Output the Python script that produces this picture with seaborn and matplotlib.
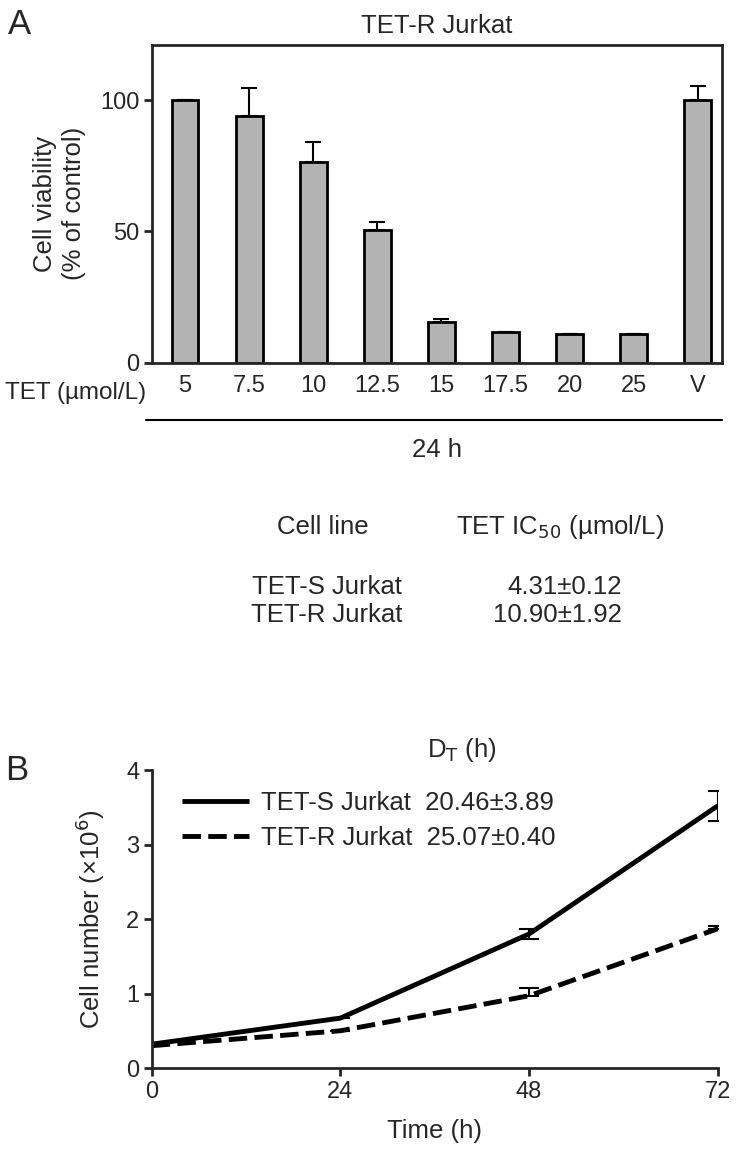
import pandas as pd
import matplotlib.pyplot as plt
import seaborn as sns
import numpy as np
from matplotlib.lines import Line2D

# Panel A data: viability of TET-R Jurkat after 24 h
doses = ["5", "7.5", "10", "12.5", "15", "17.5", "20", "25", "V"]
viability = [100, 94, 76.5, 50.5, 15.5, 11.5, 11, 11, 100]
viability_err = [0, 10.5, 7.5, 3, 1, 0, 0, 0, 5.5]

# IC50 table
cell_lines = ["TET-S Jurkat", "TET-R Jurkat"]
ic50 = ["4.31\u00b10.12", "10.90\u00b11.92"]

# Panel B data: growth curves
hours = [0, 24, 48, 72]
tet_s = [0.32, 0.67, 1.80, 3.52]
tet_s_err = [0, 0, 0.07, 0.20]
tet_r = [0.30, 0.50, 0.97, 1.87]
tet_r_err = [0, 0, 0.10, 0.04]
doubling = ["20.46\u00b13.89", "25.07\u00b10.40"]

sns.set_style("ticks")
plt.rcParams['font.family'] = ['Liberation Sans', 'DejaVu Sans']
plt.rcParams['axes.linewidth'] = 2
plt.rcParams['xtick.major.width'] = 2
plt.rcParams['ytick.major.width'] = 2

FS = 18.5    # labels / table
TFS = 17     # tick labels

fig = plt.figure(figsize=(7.4, 11.55), dpi=100)

# ------------------------------
# Panel A bar chart
axA = fig.add_axes([0.205, 0.686, 0.771, 0.275])
df_a = pd.DataFrame({"dose": doses, "viability": viability})
sns.barplot(x="dose", y="viability", data=df_a, ax=axA, color="#b3b3b3",
            edgecolor="black", linewidth=2, width=0.42, errorbar=None,
            saturation=1)
axA.errorbar(np.arange(len(doses)), viability,
             yerr=[np.zeros(len(doses)), viability_err], fmt="none",
             ecolor="black", elinewidth=1.5, capsize=6, capthick=1.5)
axA.set_xlim(-0.52, 8.38)
axA.set_ylim(0, 121)
axA.set_yticks([0, 50, 100])
axA.tick_params(axis="y", length=6, direction="out", labelsize=TFS, pad=3)
axA.tick_params(axis="x", length=0, pad=9, labelsize=TFS)
axA.set_xlabel("")
axA.set_ylabel("Cell viability\n(% of control)", fontsize=FS, labelpad=10,
               linespacing=1.25)
axA.set_title("TET-R Jurkat", fontsize=FS, pad=9)
for s in axA.spines.values():
    s.set_linewidth(2)

fig.text(8 / 740, 1 - 24 / 1155, "A", fontsize=25, va="center", ha="left")
fig.text(5 / 740, 1 - 393 / 1155, "TET (\u00b5mol/L)", fontsize=17.5, va="center", ha="left")
fig.add_artist(Line2D([146 / 740, 722 / 740], [1 - 420 / 1155] * 2, color="black", lw=1.5))
fig.text(437 / 740, 1 - 450 / 1155, "24 h", fontsize=FS, va="center", ha="center")

# IC50 table
fig.text(323 / 740, 1 - 527 / 1155, "Cell line", fontsize=FS, va="center", ha="center")
fig.text(560 / 740, 1 - 527 / 1155, "TET IC$_{50}$ (\u00b5mol/L)", fontsize=FS, va="center", ha="center")
for i, (name, val) in enumerate(zip(cell_lines, ic50)):
    y = 1 - (587 + 28 * i) / 1155
    fig.text(327 / 740, y, name, fontsize=FS, va="center", ha="center")
    fig.text(622 / 740, y, val, fontsize=FS, va="center", ha="right")

# ------------------------------
# Panel B growth curves
axB = fig.add_axes([0.205, 0.0753, 0.765, 0.258])
df_b = pd.DataFrame({
    "time": hours * 2,
    "cells": tet_s + tet_r,
    "line": [f"{cell_lines[0]}  {doubling[0]}"] * 4 + [f"{cell_lines[1]}  {doubling[1]}"] * 4,
})
sns.lineplot(x="time", y="cells", hue="line", style="line", data=df_b, ax=axB,
             palette=["black", "black"], dashes=[(1, 0), (3.8, 1.5)], linewidth=3.5,
             errorbar=None)
axB.errorbar(hours, tet_s, yerr=tet_s_err, fmt="none", ecolor="black",
             elinewidth=1.5, capsize=7, capthick=1.5)
axB.errorbar(hours, tet_r, yerr=[np.zeros(4), tet_r_err], fmt="none", ecolor="black",
             elinewidth=1.5, capsize=7, capthick=1.5)
axB.set_xlim(0, 72)
axB.set_ylim(0, 4)
axB.set_xticks([0, 24, 48, 72])
axB.set_yticks([0, 1, 2, 3, 4])
axB.tick_params(length=6, direction="out", labelsize=TFS, pad=3)
axB.set_xlabel("Time (h)", fontsize=FS, labelpad=12)
axB.set_ylabel("Cell number (\u00d710$^6$)", fontsize=FS, labelpad=14)
sns.despine(ax=axB)
for s in axB.spines.values():
    s.set_linewidth(2)
leg = axB.legend(loc="upper left", bbox_to_anchor=(0.035, 0.965), frameon=False,
                 fontsize=FS, handlelength=2.6, handletextpad=0.5, labelspacing=0.45,
                 borderaxespad=0, title=None)
for h in leg.get_lines():
    h.set_linewidth(3.5)
fig.text(427 / 740, 1 - 750 / 1155, "D$_\\mathrm{T}$ (h)", fontsize=FS, va="center", ha="left")
fig.text(5 / 740, 1 - 770 / 1155, "B", fontsize=25, va="center", ha="left")

fig.savefig("out.png", dpi=100)
